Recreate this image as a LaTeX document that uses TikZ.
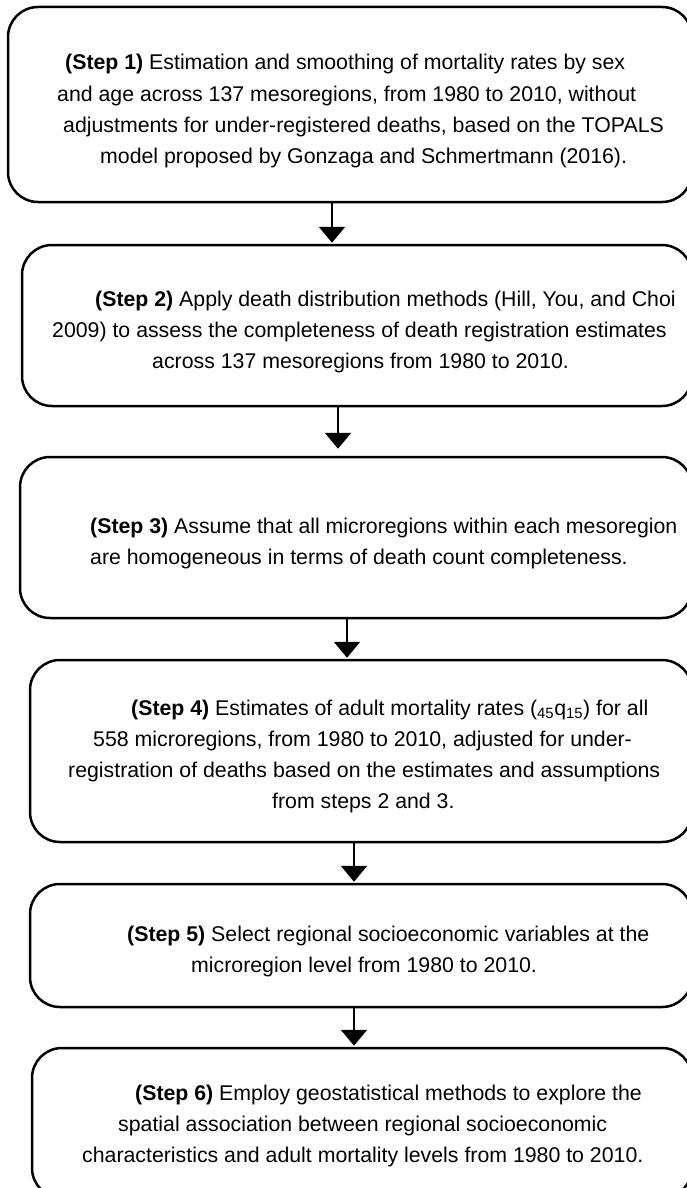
\documentclass[tikz,border=0pt]{standalone}
\usepackage{fontspec}
\setmainfont{Liberation Sans}
\usetikzlibrary{arrows.meta}
\begin{document}
\begin{tikzpicture}[x=1pt,y=-1pt,
  stepbox/.style={draw=black, line width=2.5pt, rounded corners=30pt, inner sep=0pt},
  txt/.style={anchor=base west, align=left, inner sep=0pt, font=\fontsize{21.3pt}{31pt}\selectfont},
  arr/.style={line width=2.5pt, -{Triangle[width=26pt,length=16pt]}}]
\useasboundingbox (0,0) rectangle (687,1188);
% boxes
\node[stepbox, minimum width=684pt, minimum height=195pt] (b1) at (350,104.5) {};
\node[stepbox, minimum width=670pt, minimum height=161pt] (b2) at (357,325.5) {};
\node[stepbox, minimum width=672pt, minimum height=161pt] (b3) at (356,537.5) {};
\node[stepbox, minimum width=662pt, minimum height=182pt] (b4) at (361,751) {};
\node[stepbox, minimum width=662pt, minimum height=123pt] (b5) at (361,945.5) {};
\node[stepbox, minimum width=660pt, minimum height=150pt] (b6) at (362,1123) {};
% texts (anchor = baseline of last line)
\node[txt] (t1) at (57,163) {\hspace*{8pt}\textbf{(Step 1)} Estimation and smoothing of mortality rates by sex\\
and age across 137 mesoregions, from 1980 to 2010, without\\
\hspace*{6pt}adjustments for under-registered deaths, based on the TOPALS\\
\hspace*{43pt}model proposed by Gonzaga and Schmertmann (2016).};
\node[txt] (t2) at (52,368) {\hspace*{43pt}\textbf{(Step 2)} Apply death distribution methods (Hill, You, and Choi\\
2009) to assess the completeness of death registration estimates\\
\hspace*{100pt}across 137 mesoregions from 1980 to 2010.};
\node[txt] (t3) at (90,564) {\textbf{(Step 3)} Assume that all microregions within each mesoregion\\
are homogeneous in terms of death count completeness.};
\node[txt] (t4) at (68,808) {\hspace*{63pt}\textbf{(Step 4)} Estimates of adult mortality rates (\textsubscript{45}q\textsubscript{15}) for all\\
\hspace*{25pt}558 microregions, from 1980 to 2010, adjusted for under-\\
registration of deaths based on the estimates and assumptions\\
\hspace*{204pt}from steps 2 and 3.};
\node[txt] (t5) at (127,972) {\textbf{(Step 5)} Select regional socioeconomic variables at the\\
\hspace*{64pt}microregion level from 1980 to 2010.};
\node[txt] (t6) at (82,1162) {\hspace*{53pt}\textbf{(Step 6)} Employ geostatistical methods to explore the\\
\hspace*{36pt}spatial association between regional socioeconomic\\
characteristics and adult mortality levels from 1980 to 2010.};
% arrows
\coordinate (a1) at (332,0);
\coordinate (a2) at (338,0);
\coordinate (a3) at (347,0);
\coordinate (a4) at (354,0);
\coordinate (a5) at (354,0);
\draw[arr, shorten >=1pt] (a1 |- b1.south) -- (a1 |- b2.north);
\draw[arr, shorten >=7pt] (a2 |- b2.south) -- (a2 |- b3.north);
\draw[arr, shorten >=1pt] (a3 |- b3.south) -- (a3 |- b4.north);
\draw[arr, shorten >=1pt] (a4 |- b4.south) -- (a4 |- b5.north);
\draw[arr, shorten >=1pt] (a5 |- b5.south) -- (a5 |- b6.north);
\end{tikzpicture}
\end{document}
